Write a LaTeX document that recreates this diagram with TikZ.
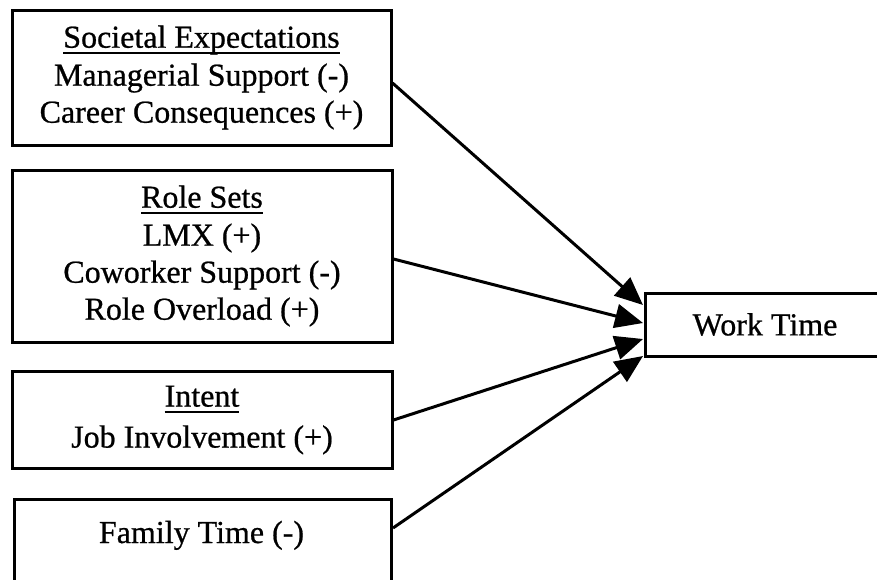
\documentclass[tikz,border=0pt]{standalone}
\usepackage{fontspec}
\setmainfont{Liberation Serif}[FakeBold=0.7]
\usetikzlibrary{arrows.meta,calc}
\newcommand\myul[1]{\setbox0\hbox{#1}\rlap{\rule[-6pt]{\wd0}{1.8pt}}#1}
\begin{document}
\begin{tikzpicture}[x=1pt,y=-1pt,
  box/.style={draw, line width=3pt, align=center, inner sep=0pt, font=\fontsize{32}{37}\selectfont},
  txt/.style={inner sep=0pt, font=\fontsize{32}{37}\selectfont},
  conn/.style={line width=3pt, -{Triangle[length=28pt,width=24pt]}}]
\useasboundingbox (0,0) rectangle (877,579);
\node[box, minimum width=379pt, minimum height=135pt] (b1) at (201.5,77.5)
  {\myul{Societal Expectations}\\[1pt]Managerial Support (-)\\Career Consequences (+)};
\node[box, minimum width=380pt, minimum height=172pt] (b2) at (202,256)
  {\myul{Role Sets}\\[1pt]LMX (+)\\Coworker Support (-)\\Role Overload (+)};
\node[box, minimum width=380pt, minimum height=97pt] (b3) at (202,420)
  {\myul{Intent}\\[4pt]Job Involvement (+)};
\node[box, minimum width=377pt, minimum height=140pt, anchor=north west] (b4) at (13,498) {};
\node[txt, anchor=base] (b4t) at (201.5,543) {Family Time (-)};
\node[box, minimum width=240pt, minimum height=63pt] (wt) at (765,324.5) {Work Time};
\coordinate (t1) at (643,305);
\coordinate (t2) at (643,323);
\coordinate (t3) at (643,339);
\coordinate (t4) at (643,356);
\draw[conn] ($(b1.east)+(0,5.5)$) -- (t1);
\draw[conn] ($(b2.east)+(0,3)$) -- (t2);
\draw[conn] (b3.east) -- (t3);
\draw[conn] ($(b4.north east)+(0,30)$) -- (t4);
\end{tikzpicture}
\end{document}
